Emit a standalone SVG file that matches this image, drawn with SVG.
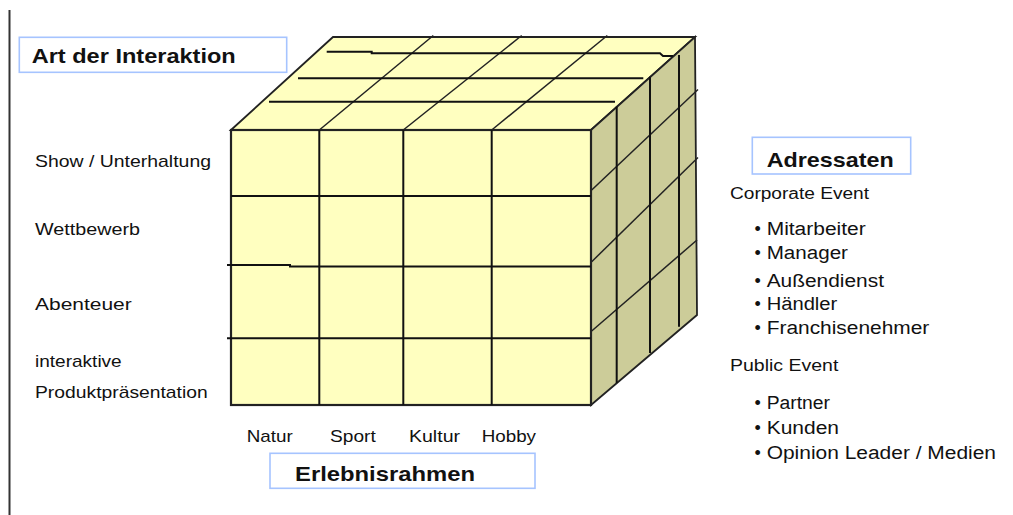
<svg xmlns="http://www.w3.org/2000/svg" width="1013" height="515" viewBox="0 0 1013 515">
<style>
.t{font-family:"Liberation Sans",Arial,sans-serif;fill:#111}
.b{font-weight:bold;font-size:21px}
.l{font-size:17px}
.s{font-size:16px}
.m{font-size:18px}
.box{fill:#fff;stroke:#a6c4ff;stroke-width:1.6}
.g{fill:none;stroke:#111;stroke-width:2}
.d{fill:none;stroke:#222;stroke-width:1.5}
</style>
<rect width="1013" height="515" fill="#fff"/>
<line x1="9.5" y1="10" x2="9.5" y2="515" stroke="#333" stroke-width="2"/>

<g id="cube">
  <polygon points="231,130 333,37 695,37 591,130" fill="#ffffc0" stroke="#222" stroke-width="1.8"/>
  <polygon points="591,130 695,37 697,315 591,405" fill="#cccc99" stroke="#222" stroke-width="1.8"/>
  <rect x="231" y="130" width="360" height="275" fill="#ffffc0" stroke="#222" stroke-width="2.2"/>
  <!-- front grid -->
  <line class="g" x1="319.3" y1="130" x2="319.3" y2="405"/>
  <line class="g" x1="403.3" y1="130" x2="403.3" y2="405"/>
  <line class="g" x1="491.7" y1="130" x2="491.7" y2="405"/>
  <line class="g" x1="231" y1="196" x2="591" y2="196"/>
  <polyline class="g" points="227,265 290,265 290,266.5 591,266.5"/>
  <line class="g" x1="227" y1="338.3" x2="591" y2="338.3"/>
  <!-- top grid -->
  <line class="d" x1="319.3" y1="130" x2="433.3" y2="35.5"/>
  <line class="d" x1="403.3" y1="130" x2="521.7" y2="35.5"/>
  <line class="d" x1="491.7" y1="130" x2="607.3" y2="35.5"/>
  <polyline class="g" points="326.7,51.7 371.7,51.7 371.7,53.3 660,53.3 663,56 673,56"/>
  <line class="g" x1="298" y1="78.3" x2="643.3" y2="78.3"/>
  <line class="g" x1="269" y1="101.7" x2="615" y2="101.7"/>
  <!-- right grid -->
  <line class="d" x1="591.7" y1="190" x2="698" y2="89.5"/>
  <line class="d" x1="591.7" y1="261.7" x2="698" y2="157.5"/>
  <line class="d" x1="591.7" y1="331" x2="697" y2="240"/>
  <line class="g" x1="616.7" y1="106.7" x2="616.7" y2="383"/>
  <line class="g" x1="650" y1="76.7" x2="650" y2="353"/>
  <line class="g" x1="679" y1="55" x2="679" y2="326.7"/>
</g>

<g id="art-der-interaktion">
  <rect class="box" x="19.3" y="37.3" width="267.4" height="35"/>
  <text class="t b" x="31.7" y="63.3" textLength="204" lengthAdjust="spacingAndGlyphs">Art der Interaktion</text>
</g>
<g id="interaktion-labels">
  <text class="t l" x="35" y="167.3" textLength="176" lengthAdjust="spacingAndGlyphs">Show / Unterhaltung</text>
  <text class="t l" x="35" y="235" textLength="105" lengthAdjust="spacingAndGlyphs">Wettbewerb</text>
  <text class="t l" x="35" y="310" textLength="96.7" lengthAdjust="spacingAndGlyphs">Abenteuer</text>
  <text class="t l" x="35" y="367.3" textLength="86.7" lengthAdjust="spacingAndGlyphs">interaktive</text>
  <text class="t l" x="35" y="398.3" textLength="172.7" lengthAdjust="spacingAndGlyphs">Produktpräsentation</text>
</g>

<g id="erlebnisrahmen">
  <rect class="box" x="270" y="453.3" width="265" height="35"/>
  <text class="t b" x="295" y="480.7" textLength="180" lengthAdjust="spacingAndGlyphs">Erlebnisrahmen</text>
</g>
<g id="erlebnis-labels">
  <text class="t l" x="246.7" y="442" textLength="46" lengthAdjust="spacingAndGlyphs">Natur</text>
  <text class="t l" x="330" y="442" textLength="45.7" lengthAdjust="spacingAndGlyphs">Sport</text>
  <text class="t l" x="409" y="442" textLength="51" lengthAdjust="spacingAndGlyphs">Kultur</text>
  <text class="t l" x="481.7" y="442" textLength="54.3" lengthAdjust="spacingAndGlyphs">Hobby</text>
</g>

<g id="adressaten">
  <rect class="box" x="752.3" y="137.3" width="158.4" height="36.7"/>
  <text class="t b" x="766.7" y="167.3" textLength="127" lengthAdjust="spacingAndGlyphs">Adressaten</text>
</g>
<g id="adressaten-labels">
  <text class="t s" x="730" y="198.5" textLength="139" lengthAdjust="spacingAndGlyphs">Corporate Event</text>
  <g class="t m">
    <text x="754.5" y="235">•</text><text x="766.7" y="235" textLength="99" lengthAdjust="spacingAndGlyphs">Mitarbeiter</text>
    <text x="754.5" y="258.5">•</text><text x="766.7" y="258.5" textLength="81.3" lengthAdjust="spacingAndGlyphs">Manager</text>
    <text x="754.5" y="287">•</text><text x="766.7" y="287" textLength="117.3" lengthAdjust="spacingAndGlyphs">Außendienst</text>
    <text x="754.5" y="309.5">•</text><text x="766.7" y="309.5" textLength="70.6" lengthAdjust="spacingAndGlyphs">Händler</text>
    <text x="754.5" y="333.5">•</text><text x="766.7" y="333.5" textLength="162.6" lengthAdjust="spacingAndGlyphs">Franchisenehmer</text>
  </g>
  <text class="t s" x="730" y="371" textLength="108.3" lengthAdjust="spacingAndGlyphs">Public Event</text>
  <g class="t m">
    <text x="754.5" y="408.5">•</text><text x="766.7" y="408.5" textLength="63.3" lengthAdjust="spacingAndGlyphs">Partner</text>
    <text x="754.5" y="433.5">•</text><text x="766.7" y="433.5" textLength="72.3" lengthAdjust="spacingAndGlyphs">Kunden</text>
    <text x="754.5" y="458.5">•</text><text x="766.7" y="458.5" textLength="229.3" lengthAdjust="spacingAndGlyphs">Opinion Leader / Medien</text>
  </g>
</g>
</svg>
